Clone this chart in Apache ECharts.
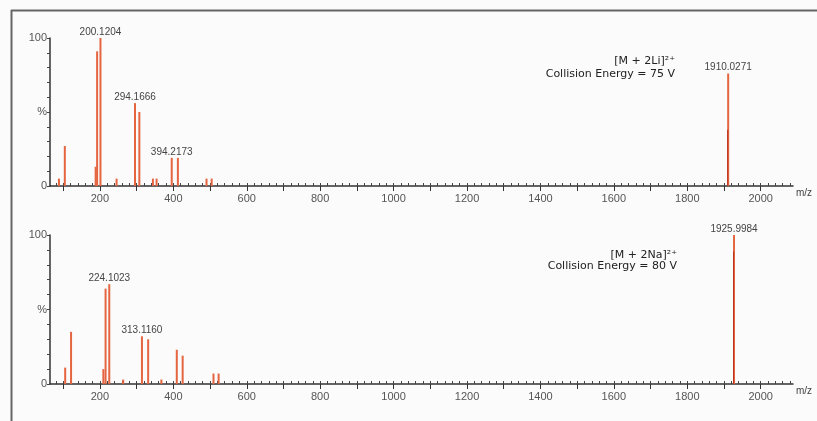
<!DOCTYPE html>
<html><head><meta charset="utf-8">
<script src="https://cdn.jsdelivr.net/npm/echarts@6/dist/echarts.min.js"></script>
<style>html,body{margin:0;padding:0;background:#fbfbfb}#c{width:817px;height:421px}</style>
</head><body><div id="c"></div>
<script>
// m/z ticks
const xTickLabels = [200, 400, 600, 800, 1000, 1200, 1400, 1600, 1800, 2000];
const xMajorTicks = [100, 200, 300, 400, 500, 600, 700, 800, 900, 1000, 1100, 1200, 1300, 1400, 1500, 1600, 1700, 1800, 1900, 2000];
// Top spectrum: [M + 2Li]2+
const topMz  = [87, 103, 187, 191, 200.12, 244, 294.17, 306, 343, 353, 394.22, 411, 489, 503, 1910.03];
const topInt = [5, 27, 13, 91, 100, 5, 56, 50, 5, 5, 19, 19, 5, 5, 76];
const topLabelMz   = [200.12, 294.17, 394.22, 1910.03];
const topLabelText = ['200.1204', '294.1666', '394.2173', '1910.0271'];
const topCoreMz  = [1910.03];
const topCoreInt = [38];
// Bottom spectrum: [M + 2Na]2+
const botMz  = [104, 120, 208, 214, 224.10, 262, 313.12, 330, 366, 408, 424, 508, 522, 1926.00];
const botInt = [11, 35, 10, 64, 67, 3, 32, 30, 3, 23, 19, 7, 7, 100];
const botLabelMz   = [224.10, 313.12, 1926.00];
const botLabelText = ['224.1023', '313.1160', '1925.9984'];
const botCoreMz  = [1926.00];
const botCoreInt = [89];

const X_MIN = 64, X_MAX = 2088;
const minorTicks = [];
for (let v = 80; v <= 2080; v += 20) minorTicks.push(v);

const chart = echarts.init(document.getElementById('c'), null, {renderer: 'canvas'});

function peakData(mz, inten, lblMz, lblText) {
  return mz.map((m, i) => {
    const k = lblMz.indexOf(m);
    const d = {value: [m, inten[i]]};
    if (k >= 0) d.label = {show: true, formatter: lblText[k]};
    return d;
  });
}

function mainX(grid) {
  return {
    type: 'value', gridIndex: grid, min: X_MIN, max: X_MAX,
    name: 'm/z', nameLocation: 'end', nameGap: 3,
    nameTextStyle: {color: '#444', fontSize: 10, fontFamily: 'Liberation Sans', verticalAlign: 'top', padding: [2, 0, 0, 0]},
    axisLine: {show: true, lineStyle: {color: '#333', width: 1.5}},
    axisTick: {show: true, customValues: xMajorTicks, length: 5, lineStyle: {color: '#333'}},
    axisLabel: {show: true, customValues: xTickLabels, margin: 7, color: '#555', fontSize: 11, fontFamily: 'Liberation Sans',
      formatter: v => String(v)},
    splitLine: {show: false}
  };
}
function minorX(grid) {
  return {
    type: 'value', gridIndex: grid, min: X_MIN, max: X_MAX, position: 'bottom',
    axisLine: {show: false},
    axisTick: {show: true, customValues: minorTicks, length: 3, inside: true, lineStyle: {color: '#444'}},
    axisLabel: {show: false}, splitLine: {show: false}
  };
}
function yAx(grid) {
  return {
    type: 'value', gridIndex: grid, min: 0, max: 100, interval: 10,
    axisLine: {show: true, lineStyle: {color: '#333', width: 1.5}},
    axisTick: {show: true, length: 3, lineStyle: {color: '#444'}},
    axisLabel: {show: true, margin: 3, color: '#555', fontSize: 11, fontFamily: 'Liberation Sans',
      formatter: v => v === 100 ? '100' : (v === 0 ? '0' : (v === 50 ? '%' : ''))},
    splitLine: {show: false}
  };
}
const barStyle = {color: '#e4653f'};
const coreStyle = {color: '#b8321c'};
const lbl = {position: 'top', distance: 1, color: '#444', fontSize: 10, fontFamily: 'Liberation Sans'};

chart.setOption({
  backgroundColor: '#fbfbfb',
  animation: false,
  grid: [
    {left: 50, right: 24, top: 38, height: 148},
    {left: 50, right: 24, top: 235, height: 149}
  ],
  xAxis: [mainX(0), minorX(0), mainX(1), minorX(1)],
  yAxis: [yAx(0), yAx(1)],
  series: [
    {type: 'bar', xAxisIndex: 0, yAxisIndex: 0, barWidth: 2, barGap: '-100%', itemStyle: barStyle, label: lbl,
     data: peakData(topMz, topInt, topLabelMz, topLabelText)},
    {type: 'bar', xAxisIndex: 0, yAxisIndex: 0, barWidth: 1, barGap: '-100%', itemStyle: coreStyle,
     data: topCoreMz.map((m, i) => [m, topCoreInt[i]])},
    {type: 'bar', xAxisIndex: 2, yAxisIndex: 1, barWidth: 2, barGap: '-100%', itemStyle: barStyle, label: lbl,
     data: peakData(botMz, botInt, botLabelMz, botLabelText)},
    {type: 'bar', xAxisIndex: 2, yAxisIndex: 1, barWidth: 1, barGap: '-100%', itemStyle: coreStyle,
     data: botCoreMz.map((m, i) => [m, botCoreInt[i]])}
  ],
  graphic: [
    {type: 'line', shape: {x1: 11, y1: 10.5, x2: 817, y2: 10.5}, style: {stroke: '#666', lineWidth: 2}},
    {type: 'line', shape: {x1: 11.5, y1: 10, x2: 11.5, y2: 421}, style: {stroke: '#666', lineWidth: 2}},
    {type: 'text', style: {text: '[M + 2Li]²⁺', x: 675, y: 61, align: 'right', verticalAlign: 'middle', fill: '#222', font: '11px "DejaVu Sans"'}},
    {type: 'text', style: {text: 'Collision Energy = 75 V', x: 675, y: 74, align: 'right', verticalAlign: 'middle', fill: '#222', font: '11px "DejaVu Sans"'}},
    {type: 'text', style: {text: '[M + 2Na]²⁺', x: 677, y: 255, align: 'right', verticalAlign: 'middle', fill: '#222', font: '11px "DejaVu Sans"'}},
    {type: 'text', style: {text: 'Collision Energy = 80 V', x: 677, y: 266, align: 'right', verticalAlign: 'middle', fill: '#222', font: '11px "DejaVu Sans"'}}
  ]
});
</script>
</body></html>
